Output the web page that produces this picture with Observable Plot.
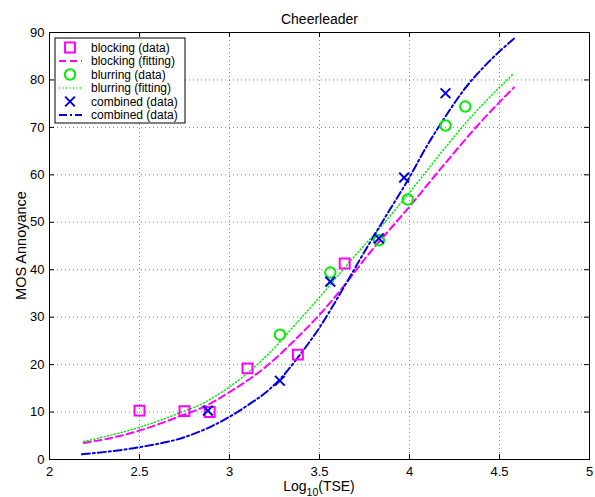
<!DOCTYPE html>
<html><head><meta charset="utf-8">
<script src="https://cdn.jsdelivr.net/npm/d3@7"></script>
<script src="https://cdn.jsdelivr.net/npm/@observablehq/plot@0.6"></script>
<style>
body{margin:0;background:#fff;}
#chart{position:relative;width:595px;height:497px;}
#chart svg{font-family:"Liberation Sans",Arial,sans-serif;}
</style></head><body><div id="chart"></div>
<script>
// ---- data ----
const title = "Cheerleader";
const yLabel = "MOS Annoyance";
const xTicks = [2, 2.5, 3, 3.5, 4, 4.5, 5];
const yTicks = [0, 10, 20, 30, 40, 50, 60, 70, 80, 90];

const blockingDataX = [2.5, 2.75, 2.89, 3.1, 3.38, 3.64];
const blockingDataY = [10.3, 10.2, 10.0, 19.2, 22.1, 41.3];
const blurringDataX = [3.28, 3.56, 3.83, 3.99, 4.2, 4.31];
const blurringDataY = [26.3, 39.4, 46.2, 54.8, 70.4, 74.4];
const combinedDataX = [2.88, 3.28, 3.56, 3.83, 3.97, 4.2];
const combinedDataY = [10.3, 16.6, 37.5, 46.6, 59.4, 77.2];

const blockingFitX = [2.19, 2.35, 2.5, 2.75, 2.84, 3.0, 3.21, 3.39, 3.5, 3.64, 3.75, 4.0, 4.2, 4.39, 4.58];
const blockingFitY = [3.5, 4.6, 6.1, 9.5, 10.8, 14.2, 19.8, 26.2, 30.5, 36.8, 42.2, 53.3, 62.5, 70.9, 78.4];
const blurringFitX = [2.19, 2.5, 2.75, 2.84, 3.0, 3.21, 3.39, 3.5, 3.71, 3.84, 4.0, 4.2, 4.3, 4.58];
const blurringFitY = [3.8, 6.8, 10.2, 11.6, 15.3, 22.0, 29.5, 34.2, 43.5, 49.0, 56.3, 65.8, 70.4, 81.4];
const combinedFitX = [2.18, 2.5, 2.75, 2.9, 3.0, 3.1, 3.21, 3.28, 3.39, 3.5, 3.64, 3.75, 3.84, 4.0, 4.1, 4.2, 4.3, 4.44, 4.58];
const combinedFitY = [1.1, 2.6, 4.7, 7.0, 9.0, 11.4, 14.4, 16.9, 22.0, 27.8, 36.6, 43.8, 49.5, 59.5, 66.3, 72.3, 77.8, 83.8, 88.7];

const legendLabels = ["blocking (data)", "blocking (fitting)", "blurring (data)", "blurring (fitting)", "combined (data)", "combined (data)"];

// ---- styles ----
const MAG = "#ff00ff", GRN = "#00ee00", BLU = "#0000e0";
const W = 595, H = 497, mt = 32, mr = 6, mb = 38, ml = 49;
const innerW = W - ml - mr, innerH = H - mt - mb;

const zip = (xs, ys) => xs.map((x, i) => ({x, y: ys[i]}));
const blockingData = zip(blockingDataX, blockingDataY);
const blurringData = zip(blurringDataX, blurringDataY);
const combinedData = zip(combinedDataX, combinedDataY);
const blockingFit = zip(blockingFitX, blockingFitY);
const blurringFit = zip(blurringFitX, blurringFitY);
const combinedFit = zip(combinedFitX, combinedFitY);

const blockStyle = {stroke: MAG, strokeWidth: 2, strokeDasharray: "7,4"};
const blurStyle = {stroke: GRN, strokeWidth: 1.5, strokeDasharray: "1,2.5"};
const combStyle = {stroke: BLU, strokeWidth: 2, strokeDasharray: "8,3,2,3"};

const chart = Plot.plot({
  width: W, height: H,
  marginTop: mt, marginRight: mr, marginBottom: mb, marginLeft: ml,
  style: {fontFamily: "Liberation Sans, Arial, sans-serif", fontSize: "13px", background: "#fff"},
  x: {domain: [2, 5], label: null},
  y: {domain: [0, 90], label: null},
  marks: [
    Plot.gridX(xTicks, {stroke: "#666", strokeOpacity: 1, strokeWidth: 0.8, strokeDasharray: "1,3"}),
    Plot.gridY(yTicks, {stroke: "#666", strokeOpacity: 1, strokeWidth: 0.8, strokeDasharray: "1,3"}),
    Plot.tickX(xTicks, {x: d => d, stroke: "#000", insetTop: innerH - 5}),
    Plot.tickX(xTicks, {x: d => d, stroke: "#000", insetBottom: innerH - 5}),
    Plot.tickY(yTicks, {y: d => d, stroke: "#000", insetRight: innerW - 5}),
    Plot.tickY(yTicks, {y: d => d, stroke: "#000", insetLeft: innerW - 5}),
    Plot.frame({stroke: "#000", strokeWidth: 1}),
    Plot.axisX(xTicks, {tickSize: 0, tickPadding: 7, fontSize: 13, label: null, tickFormat: d => String(d)}),
    Plot.axisY(yTicks, {tickSize: 0, tickPadding: 5, fontSize: 13, label: null}),
    Plot.line(blockingFit, {x: "x", y: "y", ...blockStyle, curve: "monotone-x"}),
    Plot.line(blurringFit, {x: "x", y: "y", ...blurStyle, curve: "monotone-x"}),
    Plot.line(combinedFit, {x: "x", y: "y", ...combStyle, curve: "monotone-x"}),
    Plot.dot(blockingData, {x: "x", y: "y", symbol: "square", r: 5.6, stroke: MAG, strokeWidth: 2, fill: "none"}),
    Plot.dot(blurringData, {x: "x", y: "y", symbol: "circle", r: 5.2, stroke: GRN, strokeWidth: 2, fill: "none"}),
    Plot.dot(combinedData, {x: "x", y: "y", symbol: "times", r: 4.5, stroke: BLU, strokeWidth: 2}),
    Plot.text([title], {frameAnchor: "top", lineAnchor: "bottom", dy: -9, fontSize: 14})
  ]
});
document.getElementById("chart").appendChild(chart);

const svg = d3.select(chart);
// y-axis label
svg.append("text")
  .attr("transform", `translate(26,${mt + innerH / 2}) rotate(-90)`)
  .attr("text-anchor", "middle").attr("font-size", 14.5).attr("fill", "#000").text(yLabel);

// x-axis label with subscript
const xl = svg.append("text")
  .attr("x", ml + innerW / 2).attr("y", H - 6)
  .attr("text-anchor", "middle").attr("font-size", 14).attr("fill", "#000");
xl.append("tspan").text("Log");
xl.append("tspan").attr("font-size", 10.5).attr("dy", 5).text("10");
xl.append("tspan").attr("dy", -5).text("(TSE)");

// legend
const lg = svg.append("g").attr("transform", "translate(55,38)");
lg.append("rect").attr("width", 130).attr("height", 85).attr("fill", "#fff").attr("stroke", "#000").attr("stroke-width", 1);
const rowY = i => 9.5 + i * 13.5;
const sym = (type) => {
  if (type === "square") return d3.symbol(d3.symbolSquare, Math.PI * 5.6 * 5.6)();
  if (type === "circle") return d3.symbol(d3.symbolCircle, Math.PI * 5.2 * 5.2)();
  return d3.symbol(d3.symbolTimes, Math.PI * 4.5 * 4.5)();
};
const entries = [
  {kind: "dot", sym: "square", color: MAG},
  {kind: "line", style: blockStyle},
  {kind: "dot", sym: "circle", color: GRN},
  {kind: "line", style: blurStyle},
  {kind: "dot", sym: "times", color: BLU},
  {kind: "line", style: combStyle}
];
entries.forEach((e, i) => {
  const y = rowY(i);
  if (e.kind === "dot") {
    lg.append("path").attr("d", sym(e.sym)).attr("transform", `translate(15,${y})`)
      .attr("fill", "none").attr("stroke", e.color).attr("stroke-width", 2);
  } else {
    lg.append("line").attr("x1", 4).attr("x2", 27).attr("y1", y).attr("y2", y)
      .attr("stroke", e.style.stroke).attr("stroke-width", e.style.strokeWidth)
      .attr("stroke-dasharray", e.style.strokeDasharray);
  }
  lg.append("text").attr("x", 36).attr("y", y).attr("dy", "0.35em")
    .attr("text-anchor", "start").attr("font-size", 12).attr("fill", "#000").text(legendLabels[i]);
});
</script></body></html>
